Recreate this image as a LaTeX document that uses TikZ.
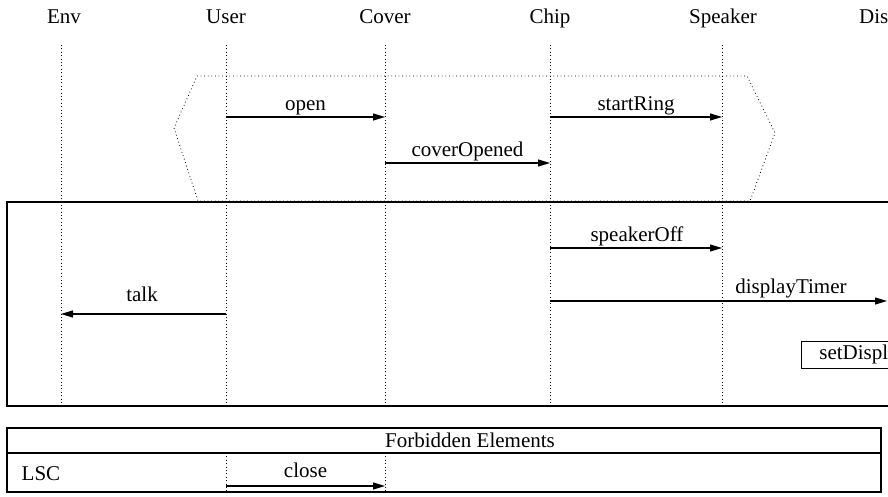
\documentclass[tikz,border=0pt]{standalone}
\usepackage{fontspec}
\setmainfont{Liberation Serif}
\usetikzlibrary{arrows.meta}
\begin{document}
\begin{tikzpicture}[x=1pt,y=-1pt, font=\fontsize{21}{25}\selectfont,
  life/.style={line width=0.8pt, dash pattern=on 0.8pt off 2.6pt},
  hexline/.style={line width=0.8pt, dash pattern=on 0.8pt off 2.8pt},
  msg/.style={line width=1.1pt, -{Triangle[length=12pt,width=7pt]}},
  lbl/.style={anchor=base, inner sep=0pt},
  frame/.style={line width=1.1pt}]
\clip (0,0) rectangle (888,497);
% headers
\node[lbl] (hEnv) at (64,24) {Env};
\node[lbl] (hUser) at (226,24) {User};
\node[lbl] (hCover) at (385,24) {Cover};
\node[lbl] (hChip) at (550,24) {Chip};
\node[lbl] (hSpeaker) at (723,24) {Speaker};
\node[lbl, anchor=base west] (hDisplay) at (859,24) {Display};
% lifeline ends
\foreach \n/\x in {Env/61,User/226,Cover/385,Chip/550,Speaker/722,Display/890}{
  \coordinate (\n T) at (\x,45);
  \coordinate (\n B) at (\x,406);
  \draw[life] (\n T) -- (\n B);
}
% prechart hexagon
\draw[hexline] (197,76) -- (747,76) -- (775,133) -- (750,201) -- (198,201) -- (174,128) -- cycle;
% main chart frame
\draw[frame] (7,202) rectangle (900,406);
% messages
\coordinate (u1) at (226,117); \coordinate (c1) at (385,117);
\coordinate (ch1) at (550,117); \coordinate (s1) at (722,117);
\coordinate (c2) at (385,163); \coordinate (ch2) at (550,163);
\coordinate (ch3) at (550,248); \coordinate (s3) at (722,248);
\coordinate (ch4) at (550,301); \coordinate (d4) at (887,301);
\coordinate (u5) at (226,314); \coordinate (e5) at (61,314);
\draw[msg] (u1) -- (c1);
\node[lbl] (lopen) at (305.5,111) {open};
\draw[msg] (ch1) -- (s1);
\node[lbl] (lstart) at (636,111) {startRing};
\draw[msg] (c2) -- (ch2);
\node[lbl] (lcover) at (467.5,157) {coverOpened};
\draw[msg] (ch3) -- (s3);
\node[lbl] (lspk) at (637,241.5) {speakerOff};
\draw[msg] (ch4) -- (d4);
\node[lbl] (ldisp) at (791,293) {displayTimer};
\draw[msg] (u5) -- (e5);
\node[lbl] (ltalk) at (142,301) {talk};
% action box
\node[draw, line width=0.8pt, anchor=west, minimum height=27pt, inner xsep=18pt, inner ysep=0pt, fill=white] (setd) at (801,354.5) {setDisplay};
% forbidden elements box
\draw[frame] (7,428) rectangle (881,492);
\draw[frame] (7,453) -- (881,453);
\node[lbl] (fe) at (470,447) {Forbidden Elements};
\node[lbl, anchor=base west] (lsc) at (21.5,480) {LSC};
\coordinate (uF) at (226,453); \coordinate (uG) at (226,492);
\coordinate (cF) at (385,453); \coordinate (cG) at (385,492);
\draw[life] (uF) -- (uG);
\draw[life] (cF) -- (cG);
\coordinate (u6) at (226,486); \coordinate (c6) at (385,486);
\draw[msg] (u6) -- (c6);
\node[lbl] (lclose) at (305.5,477.5) {close};
\end{tikzpicture}
\end{document}
